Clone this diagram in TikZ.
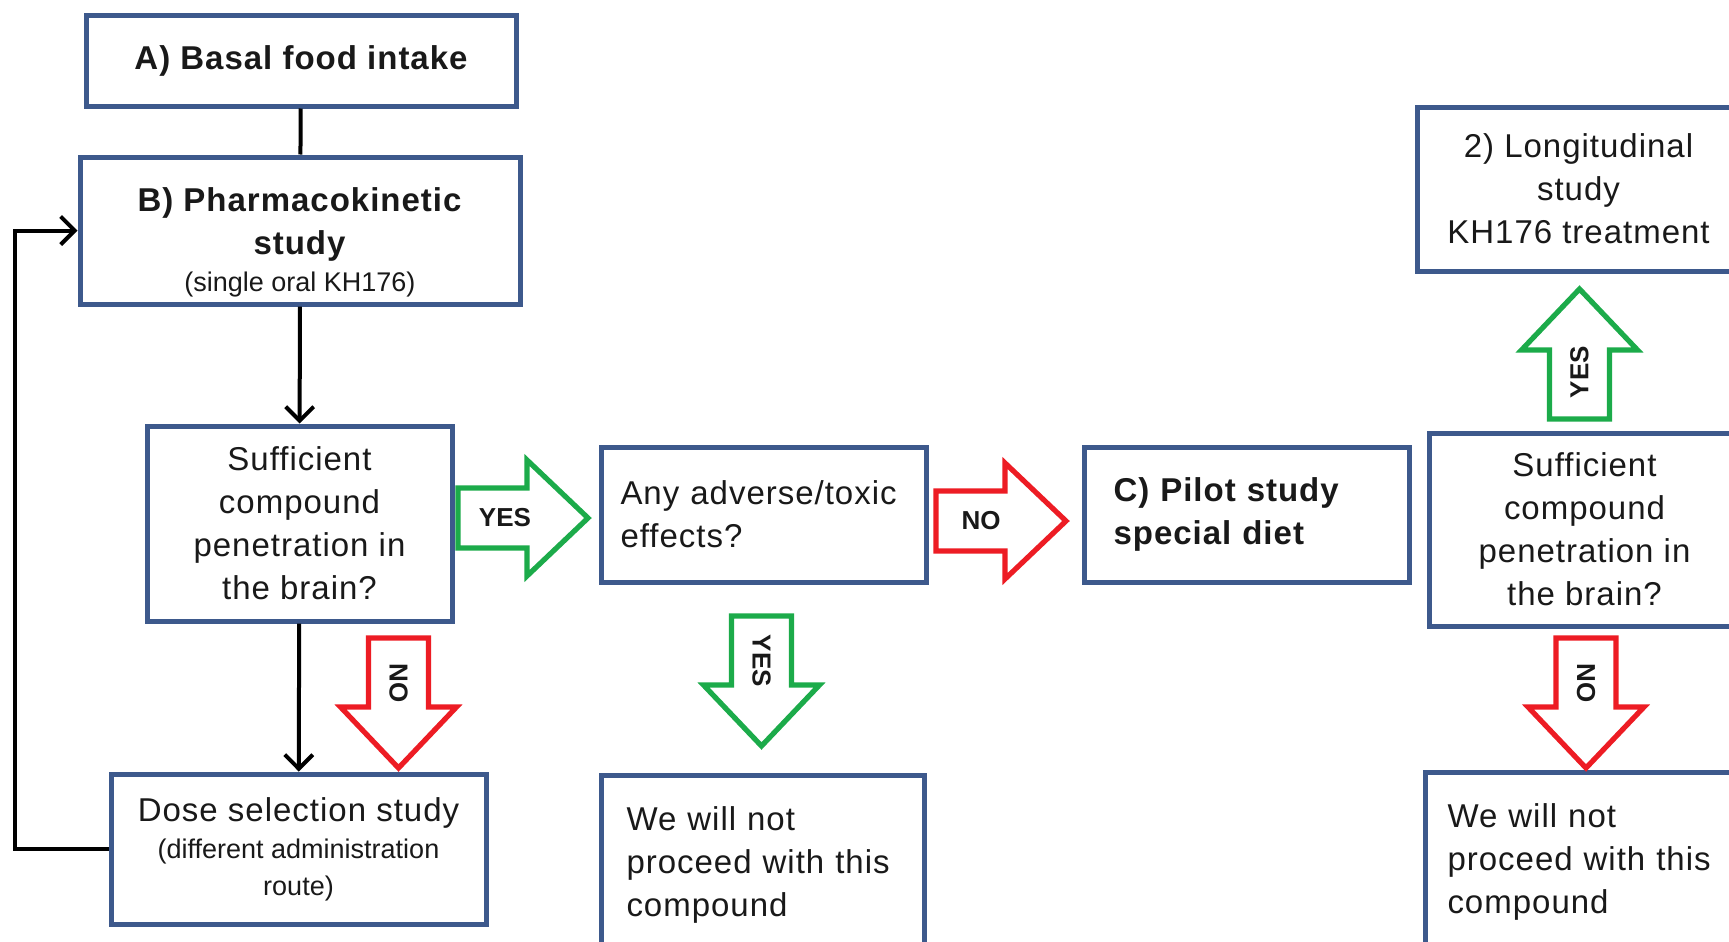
\documentclass[tikz,border=0pt]{standalone}
\usepackage{fontspec}
\setmainfont{Liberation Sans}[LetterSpace=3]
\newfontfamily\tightsans{Liberation Sans}
\usetikzlibrary{arrows,arrows.meta,calc}
\definecolor{BoxClr}{rgb}{0.24,0.35,0.55}
\definecolor{YesClr}{rgb}{0.11,0.67,0.29}
\definecolor{NoClr}{rgb}{0.93,0.11,0.14}
\definecolor{TxtClr}{rgb}{0.1,0.1,0.1}

\begin{document}
\begin{tikzpicture}[x=0.5pt,y=-0.5pt]
\tikzset{
  box/.style={draw=BoxClr,line width=2.5pt,fill=white,inner sep=0pt,text=TxtClr,
    font=\fontsize{16.5}{21.5}\selectfont},
  link/.style={line width=2pt,black},
  arr/.style={link,-{Straight Barb[length=7pt,width=14pt,line width=2pt]}},
  fatarrow/.pic={\draw[pic actions,line width=2.6pt,fill=white]
    (-65,-30) -- (4,-30) -- (4,-58) -- (65,0) -- (4,58) -- (4,30) -- (-65,30) -- cycle;},
  fatlabel/.style={font=\tightsans\bfseries\fontsize{13}{15}\selectfont,inner sep=0pt,text=TxtClr}
}

\useasboundingbox (0,0) rectangle (1729,942);
\clip (0,0) rectangle (1729,942);
\fill[white] (0,0) rectangle (1729,942);

\node[box,minimum width=215pt,minimum height=45.5pt,font=\fontsize{16.5}{21.5}\selectfont\bfseries] (basal) at (301,60.5) {A) Basal food intake};
\node[box,minimum width=220pt,minimum height=73.5pt,align=center] (pk) at (300,230.5)
  {\rule{0pt}{24pt}\textbf{B) Pharmacokinetic}\\ \textbf{study}\\[-3pt] {\tightsans\fontsize{13.5}{16}\selectfont(single oral KH176)}};
\node[box,minimum width=152.5pt,minimum height=97.5pt,align=center] (suff1) at (299.5,523.5)
  {Sufficient\\ compound\\ penetration in\\ the brain?};
\node[box,minimum width=187.5pt,minimum height=75pt,align=center] (dose) at (298.5,849)
  {Dose selection study\\[-3pt] {\tightsans\fontsize{13.5}{16}\selectfont(different administration}\\[-3pt] {\tightsans\fontsize{13.5}{16}\selectfont route)}};

\node[box,minimum width=162.5pt,minimum height=67.5pt,text width=143pt,align=left] (toxic) at (763.5,514.5)
  {Any adverse/toxic\\ effects?};
\node[box,minimum width=161.5pt,minimum height=90pt,text width=136pt,align=left] (stop1) at (762.5,865)
  {We will not\\ proceed with this\\ compound};

\node[box,minimum width=162.5pt,minimum height=67.5pt,text width=133pt,align=left,font=\fontsize{16.5}{21.5}\selectfont\bfseries] (pilot) at (1246.5,514.5)
  {C) Pilot study\\ special diet};
\node[box,minimum width=155.5pt,minimum height=96.5pt,align=center] (suff2) at (1584.5,529.5)
  {Sufficient\\ compound\\ penetration in\\ the brain?};
\node[box,minimum width=161.5pt,minimum height=82pt,align=center] (longi) at (1578.5,189)
  {2) Longitudinal\\ study\\ KH176 treatment};
\node[box,minimum width=157.5pt,minimum height=90pt,text width=135pt,align=left] (stop2) at (1582.5,862)
  {We will not\\ proceed with this\\ compound};

\coordinate (back) at (15,849);
\draw[link] (basal) -- (pk);
\draw[arr] (pk) -- (suff1);
\draw[arr] (suff1) -- (dose);
\draw[arr] (dose.west) -- (back) |- (pk.west);

\pic[draw=YesClr] at (523,518) {fatarrow};
\node[fatlabel] (yes1) at (505,518) {YES};
\pic[draw=NoClr] at (1001,521) {fatarrow};
\node[fatlabel] (no1) at (981,521) {NO};
\pic[draw=NoClr,rotate=-90] at (398.5,703) {fatarrow};
\node[fatlabel,rotate=-90] (no2) at (398.5,683) {NO};
\pic[draw=YesClr,rotate=-90] at (761.5,681) {fatarrow};
\node[fatlabel,rotate=-90] (yes2) at (761.5,661) {YES};
\pic[draw=YesClr,rotate=90] at (1579.5,354) {fatarrow};
\node[fatlabel,rotate=90] (yes3) at (1579.5,372) {YES};
\pic[draw=NoClr,rotate=-90] at (1586,703) {fatarrow};
\node[fatlabel,rotate=-90] (no3) at (1586,683) {NO};

\end{tikzpicture}
\end{document}
